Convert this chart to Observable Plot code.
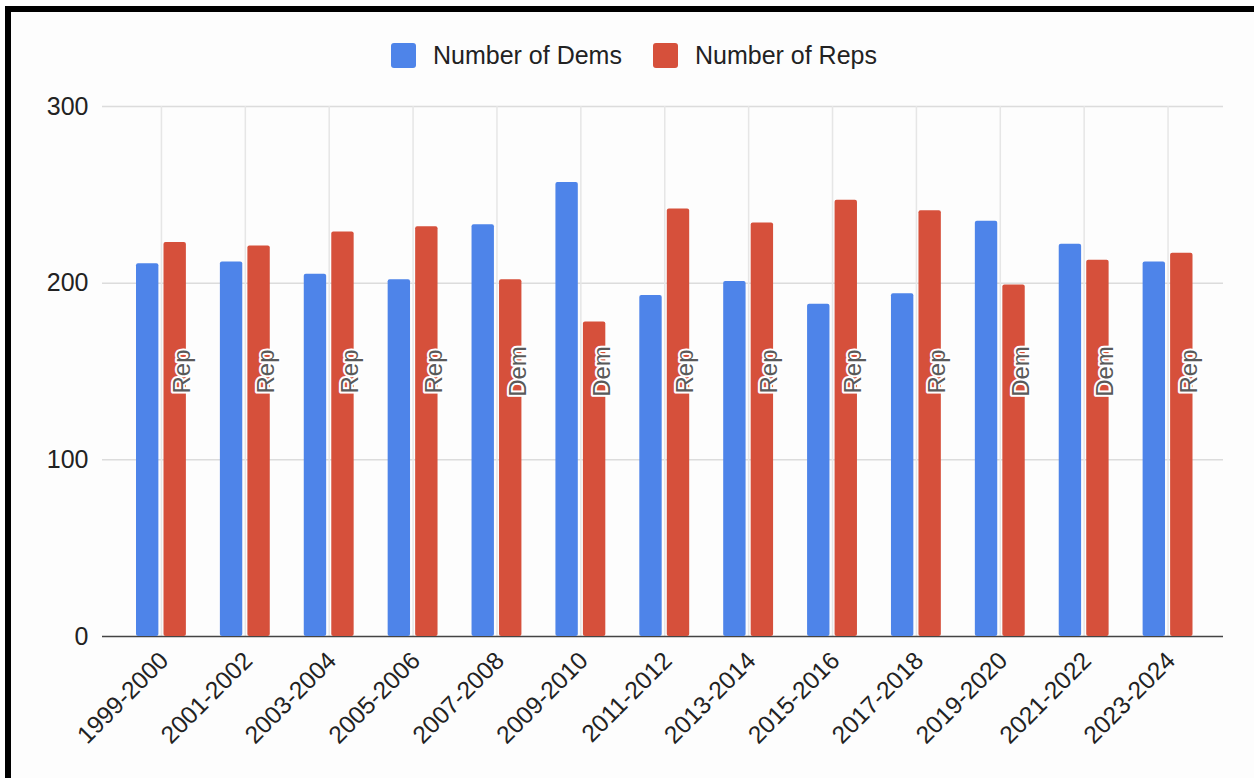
<!DOCTYPE html>
<html><head><meta charset="utf-8">
<script src="https://cdn.jsdelivr.net/npm/d3@7"></script>
<script src="https://cdn.jsdelivr.net/npm/@observablehq/plot@0.6"></script>
<style>
html,body{margin:0;padding:0;background:#fff;}
#wrap{position:relative;width:1254px;height:778px;overflow:hidden;font-family:"Liberation Sans",Arial,sans-serif;}
#frame{position:absolute;left:5px;top:6px;right:-20px;bottom:-20px;border-top:6px solid #000;border-left:6px solid #000;background:#fdfdfd;}
#legend{position:absolute;top:43px;left:391px;display:flex;align-items:center;font-size:25px;color:#222;line-height:25px;}
.sw{width:25px;height:25px;border-radius:3px;display:inline-block;margin-right:17px;}
.item{display:flex;align-items:center;margin-right:31px;}
#chart{position:absolute;left:0;top:0;}
</style></head>
<body><div id="wrap"><div id="frame"></div><div id="chart"></div><div id="legend"></div></div>
<script>
const periods = ["1999-2000","2001-2002","2003-2004","2005-2006","2007-2008","2009-2010","2011-2012","2013-2014","2015-2016","2017-2018","2019-2020","2021-2022","2023-2024"];
const dems = [211,212,205,202,233,257,193,201,188,194,235,222,212];
const reps = [223,221,229,232,202,178,242,234,247,241,199,213,217];
const majority = ["Rep","Rep","Rep","Rep","Dem","Dem","Rep","Rep","Rep","Rep","Dem","Dem","Rep"];
const seriesNames = ["Number of Dems","Number of Reps"];
const seriesColors = ["#4e84e9","#d6503b"];
const yTicks = [0,100,200,300];

const demRows = periods.map((p,i)=>({period:p, series:seriesNames[0], value:dems[i]}));
const repRows = periods.map((p,i)=>({period:p, series:seriesNames[1], value:reps[i]}));
const labelRows = periods.map((p,i)=>({period:p, label:majority[i], pos:150}));

const font = '"Liberation Sans", Arial, sans-serif';
const chart = Plot.plot({
  width:1254, height:778,
  marginTop:106, marginBottom:142, marginLeft:102, marginRight:31,
  style:{background:"transparent", fontFamily:font, overflow:"visible"},
  x:{type:"band", domain:periods, padding:0, round:false, insetLeft:17, insetRight:13.5, axis:null},
  y:{domain:[0,300], axis:null},
  marks:[
    Plot.ruleY(yTicks.filter(d=>d>0), {stroke:"#dcdcdc", strokeWidth:1.5}),
    Plot.ruleX(periods, {x:d=>d, y1:0, y2:300, stroke:"#e6e6e6", strokeWidth:1.5}),
    Plot.ruleY([0], {stroke:"#444", strokeWidth:1.5}),
    Plot.barY(demRows, {x:"period", y:"value", fill:seriesColors[0], insetLeft:17, insetRight:44.5, rx:2}),
    Plot.barY(repRows, {x:"period", y:"value", fill:seriesColors[1], insetLeft:44.5, insetRight:17, rx:2}),
    Plot.text(labelRows, {x:"period", y:"pos", text:"label", rotate:-90, dx:21, fontSize:24, fill:"#595959", stroke:"white", strokeWidth:4, paintOrder:"stroke", textAnchor:"middle", lineAnchor:"middle"}),
    Plot.axisY(yTicks, {tickSize:0, tickPadding:14, fontSize:25, fill:"#222", label:null}),
    Plot.axisX(periods, {tickSize:0, tickPadding:20, dx:3, tickRotate:-45, fontSize:24.5, fill:"#222", label:null})
  ]
});
document.getElementById("chart").appendChild(chart);

const legend = document.getElementById("legend");
seriesNames.forEach((n,i)=>{
  const it = document.createElement("div"); it.className="item";
  const sw = document.createElement("span"); sw.className="sw"; sw.style.background=seriesColors[i];
  const tx = document.createElement("span"); tx.textContent=n;
  it.appendChild(sw); it.appendChild(tx); legend.appendChild(it);
});
</script>
</body></html>
